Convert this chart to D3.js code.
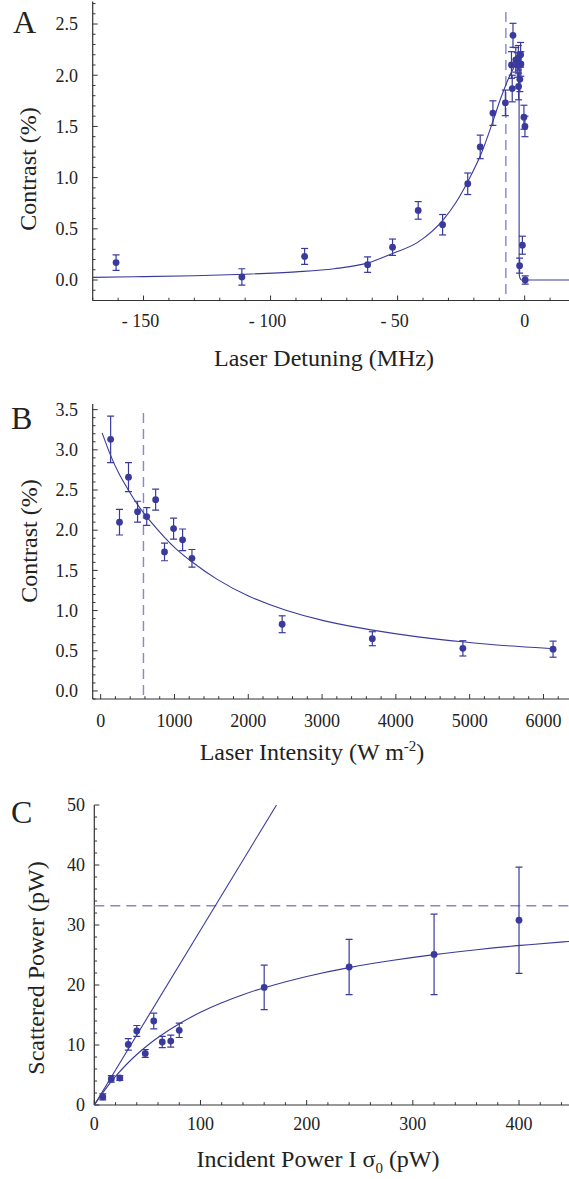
<!DOCTYPE html>
<html><head><meta charset="utf-8">
<script src="https://cdn.jsdelivr.net/npm/d3@7"></script>
<style>
html,body{margin:0;padding:0;background:#fff;}
svg text{font-family:"Liberation Serif","DejaVu Serif",serif;fill:#222;}
</style></head>
<body><svg id="fig" width="569" height="1179"></svg>
<script>
// ---------- Panel A data ----------
const detuningA = [-160.8,-111.3,-86.6,-61.8,-52.0,-41.9,-32.3,-22.4,-17.5,-12.5,-7.6,-4.6,-5.2,-4.9,-3.5,-2.9,-2.5,-1.6,-1.5,-1.9,-2.4,-0.3,0.1,-0.9,-2.0,0.2];
const contrastA = [0.17,0.03,0.23,0.15,0.32,0.68,0.54,0.94,1.30,1.63,1.73,2.39,2.10,1.87,2.15,2.10,2.17,2.20,2.11,1.96,1.89,1.59,1.50,0.34,0.14,0.00];
const errorA = [0.075,0.08,0.078,0.076,0.08,0.086,0.10,0.105,0.115,0.12,0.125,0.117,0.13,0.13,0.12,0.12,0.12,0.12,0.12,0.12,0.13,0.117,0.10,0.088,0.073,0.04];
const fitDetuningA = [-170,-150,-130,-110,-90,-75,-62,-52,-42,-32,-27,-22,-17,-12.5,-9.5,-7.5,-5,-3.5,-2.2,-2.18,-2.0,-1.6,-1.2,20];
const fitContrastA = [0.026,0.033,0.042,0.057,0.08,0.11,0.165,0.26,0.37,0.59,0.76,0.98,1.24,1.55,1.77,1.9,2.04,2.1,2.13,0.08,0.03,0.008,0,0];
const markDetuningA = -7.4;
const xTicksA = [-150,-100,-50,0];
const yTicksA = [0,0.5,1,1.5,2,2.5];

// ---------- Panel B data ----------
const intensityB = [135,255,377,500,624,745,865,988,1110,1237,2459,3681,4908,6130];
const contrastB = [3.13,2.10,2.66,2.23,2.17,2.38,1.73,2.02,1.88,1.65,0.83,0.65,0.53,0.52];
const errorB = [0.29,0.16,0.18,0.13,0.11,0.13,0.11,0.13,0.135,0.11,0.105,0.087,0.095,0.1];
const fitIntensityB = [20,130,250,375,500,620,750,865,1000,1240,1560,2000,2500,3000,3700,4300,4900,5500,6150];
const fitContrastB = [3.21,2.93,2.69,2.50,2.31,2.17,2.03,1.91,1.78,1.60,1.39,1.17,1.00,0.87,0.75,0.67,0.61,0.56,0.525];
const markIntensityB = 580;
const xTicksB = [0,1000,2000,3000,4000,5000,6000];
const yTicksB = [0,0.5,1,1.5,2,2.5,3,3.5];

// ---------- Panel C data ----------
const incidentC = [8,16,24,32,40,48,56,64,72,80,160,240,320,400];
const scatteredC = [1.35,4.35,4.5,10.1,12.35,8.6,14.0,10.5,10.65,12.45,19.6,23.0,25.1,30.8];
const errorC = [0.5,0.55,0.4,0.95,0.9,0.65,1.3,0.95,1.0,1.2,3.7,4.6,6.7,8.85];
const fitIncidentC = [0,10,20,30,40,50,60,80,100,120,140,160,200,240,280,320,360,400,450];
const fitScatteredC = [0,2.6,4.8,6.75,8.45,9.95,11.3,13.6,15.5,17.1,18.4,19.6,21.5,22.95,24.1,25.1,25.9,26.6,27.3];
const linearIncidentC = [0,171.6];
const linearScatteredC = [0,50];
const saturationC = 33.2;
const xTicksC = [0,100,200,300,400];
const yTicksC = [0,10,20,30,40,50];

const BLUE = "#3a3a9c", DASH = "#8686cf", AXIS = "#333";
const svg = d3.select("#fig");

function panel(cfg){
  const g = svg.append("g");
  const x = d3.scaleLinear().domain(cfg.xDomain).range(cfg.xRange);
  const y = d3.scaleLinear().domain(cfg.yDomain).range(cfg.yRange);
  const x0 = cfg.xRange[0], yb = cfg.yRange[0], yt = cfg.yRange[1], xr = 569;
  const clipId = "clip"+cfg.id;
  g.append("clipPath").attr("id",clipId).append("rect")
    .attr("x",x0).attr("y",yt-4).attr("width",xr-x0).attr("height",yb-yt+4);
  g.append("line").attr("x1",x0).attr("x2",xr).attr("y1",yb).attr("y2",yb).attr("stroke",AXIS).attr("stroke-width",1.2);
  g.append("line").attr("x1",x0).attr("x2",x0).attr("y1",yb).attr("y2",yt).attr("stroke",AXIS).attr("stroke-width",1.2);
  const xmin = x.invert(x0), xmax = x.invert(xr);
  d3.range(Math.ceil(xmin/cfg.xMinor)*cfg.xMinor, xmax+1e-9, cfg.xMinor).forEach(v=>{
    const major = cfg.xTicks.some(t=>Math.abs(t-v)<1e-6);
    g.append("line").attr("x1",x(v)).attr("x2",x(v)).attr("y1",yb).attr("y2",yb-(major?5:2.8))
      .attr("stroke",AXIS).attr("stroke-width",1);
  });
  const ymin = cfg.yDomain[0], ymax = cfg.yDomain[1];
  d3.range(Math.ceil(ymin/cfg.yMinor-1e-6)*cfg.yMinor, ymax+1e-9, cfg.yMinor).forEach(v=>{
    const major = cfg.yTicks.some(t=>Math.abs(t-v)<1e-6);
    g.append("line").attr("x1",x0).attr("x2",x0+(major?5:2.8)).attr("y1",y(v)).attr("y2",y(v))
      .attr("stroke",AXIS).attr("stroke-width",1);
  });
  g.selectAll(null).data(cfg.xTicks).enter().append("text")
    .attr("x",d=>x(d)+(d<0?-3:0)).attr("y",yb+cfg.xLabelOff).attr("text-anchor","middle")
    .attr("font-size",18).text(cfg.xFmt);
  g.selectAll(null).data(cfg.yTicks).enter().append("text")
    .attr("x",cfg.yLabelX).attr("y",d=>y(d)).attr("dy","0.35em").attr("text-anchor","end")
    .attr("font-size",18).text(cfg.yFmt);
  const plot = g.append("g").attr("clip-path",`url(#${clipId})`);
  return {g, plot, x, y};
}

const line = (x,y)=>d3.line().x(d=>x(d[0])).y(d=>y(d[1])).curve(d3.curveMonotoneX);

function drawPoints(plot, x, y, xs, ys, es){
  const pts = xs.map((v,i)=>({x:v,y:ys[i],e:es[i]}));
  const eg = plot.append("g").attr("stroke",BLUE).attr("stroke-width",1.2);
  pts.forEach(p=>{
    eg.append("line").attr("x1",x(p.x)).attr("x2",x(p.x)).attr("y1",y(p.y-p.e)).attr("y2",y(p.y+p.e));
    [p.y-p.e,p.y+p.e].forEach(v=>eg.append("line").attr("x1",x(p.x)-3.5).attr("x2",x(p.x)+3.5).attr("y1",y(v)).attr("y2",y(v)));
  });
  plot.append("g").selectAll("circle").data(pts).enter().append("circle")
    .attr("cx",d=>x(d.x)).attr("cy",d=>y(d.y)).attr("r",3.4).attr("fill",BLUE);
}
function drawFit(plot,x,y,xs,ys,curve){
  plot.append("path").attr("d",d3.line().x(d=>x(d[0])).y(d=>y(d[1])).curve(curve||d3.curveMonotoneX)(xs.map((v,i)=>[v,ys[i]])))
    .attr("fill","none").attr("stroke",BLUE).attr("stroke-width",1.1);
}

// ===== Panel A =====
{
  const {g,plot,x,y} = panel({id:"A", xDomain:[-170,20], xRange:[92.7,575.5], yDomain:[-0.2,2.72], yRange:[300.5,1.5],
    xTicks:xTicksA, yTicks:yTicksA, xMinor:10, yMinor:0.1, xLabelOff:26.5, yLabelX:78,
    xFmt:d=>d<0?"- "+Math.abs(d):String(d), yFmt:d=>d.toFixed(1)});
  plot.append("line").attr("x1",x(markDetuningA)).attr("x2",x(markDetuningA)).attr("y1",12).attr("y2",300.5)
    .attr("stroke",DASH).attr("stroke-width",1.4).attr("stroke-dasharray","10,6");
  drawFit(plot,x,y,fitDetuningA,fitContrastA);
  drawPoints(plot,x,y,detuningA,contrastA,errorA);
  g.append("text").attr("x",13).attr("y",33).attr("font-size",32).text("A");
  g.append("text").attr("x",324).attr("y",366).attr("text-anchor","middle").attr("font-size",24).text("Laser Detuning (MHz)");
  g.append("text").attr("transform","translate(36,169) rotate(-90)").attr("text-anchor","middle").attr("font-size",24).text("Contrast (%)");
}

// ===== Panel B =====
{
  const {g,plot,x,y} = panel({id:"B", xDomain:[-108,6350], xRange:[92.7,569.3], yDomain:[-0.1,3.57], yRange:[699,404],
    xTicks:xTicksB, yTicks:yTicksB, xMinor:200, yMinor:0.1, xLabelOff:28, yLabelX:78,
    xFmt:d=>String(d), yFmt:d=>d.toFixed(1)});
  plot.append("line").attr("x1",x(markIntensityB)).attr("x2",x(markIntensityB)).attr("y1",413).attr("y2",699)
    .attr("stroke",DASH).attr("stroke-width",1.4).attr("stroke-dasharray","10,6");
  drawFit(plot,x,y,fitIntensityB,fitContrastB,d3.curveBasis);
  drawPoints(plot,x,y,intensityB,contrastB,errorB);
  g.append("text").attr("x",11).attr("y",429).attr("font-size",32).text("B");
  const t = g.append("text").attr("x",312).attr("y",760).attr("text-anchor","middle").attr("font-size",24);
  t.append("tspan").text("Laser Intensity (W m");
  t.append("tspan").attr("font-size",15).attr("dy",-9).text("-2");
  t.append("tspan").attr("dy",9).text(")");
  g.append("text").attr("transform","translate(36.5,541) rotate(-90)").attr("text-anchor","middle").attr("font-size",24).text("Contrast (%)");
}

// ===== Panel C =====
{
  const {g,plot,x,y} = panel({id:"C", xDomain:[0,450], xRange:[94.3,572.1], yDomain:[0,50], yRange:[1105,805],
    xTicks:xTicksC, yTicks:yTicksC, xMinor:20, yMinor:2, xLabelOff:25, yLabelX:85,
    xFmt:d=>String(d), yFmt:d=>String(d)});
  plot.append("line").attr("x1",x(0)).attr("x2",569).attr("y1",y(saturationC)).attr("y2",y(saturationC))
    .attr("stroke",DASH).attr("stroke-width",1.4).attr("stroke-dasharray","10,6");
  drawFit(plot,x,y,linearIncidentC,linearScatteredC,d3.curveLinear);
  drawFit(plot,x,y,fitIncidentC,fitScatteredC,d3.curveBasis);
  drawPoints(plot,x,y,incidentC,scatteredC,errorC);
  g.append("text").attr("x",11).attr("y",823).attr("font-size",32).text("C");
  const t = g.append("text").attr("x",318).attr("y",1167).attr("text-anchor","middle").attr("font-size",24);
  t.append("tspan").text("Incident Power I σ");
  t.append("tspan").attr("font-size",15).attr("dy",6).text("0");
  t.append("tspan").attr("dy",-6).text(" (pW)");
  g.append("text").attr("transform","translate(43.5,968) rotate(-90)").attr("text-anchor","middle").attr("font-size",24).text("Scattered Power (pW)");
}
</script></body></html>
